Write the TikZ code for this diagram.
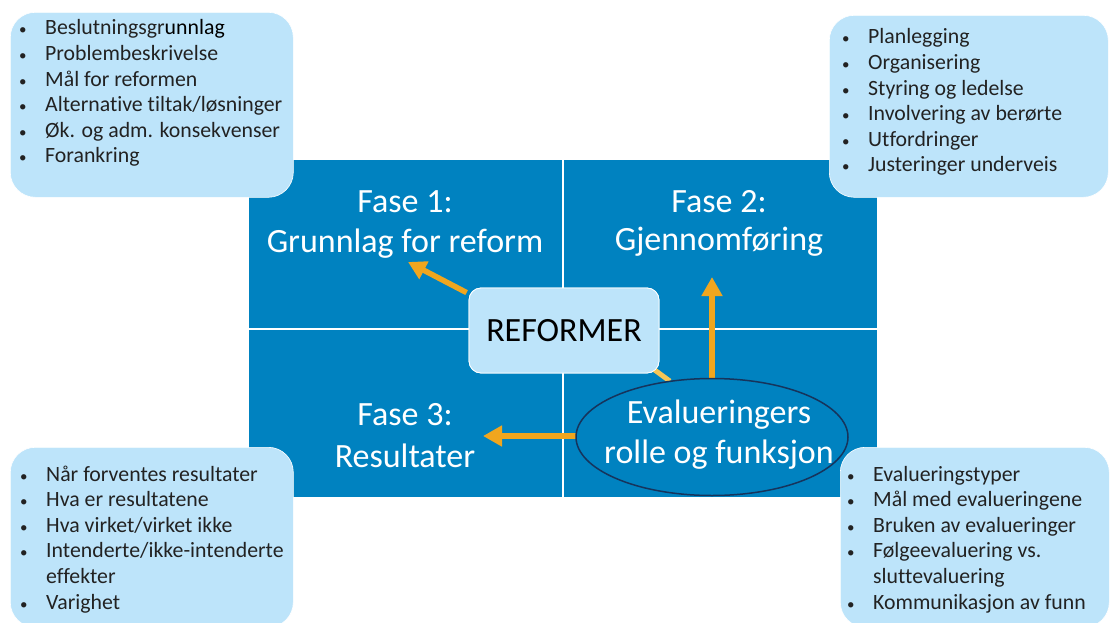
\documentclass[tikz,border=0pt]{standalone}
\usepackage{fontspec}
\setmainfont{Carlito}[Ligatures=NoCommon]
\usetikzlibrary{arrows.meta,shapes.geometric}

\definecolor{quad}{RGB}{0,130,192}
\definecolor{callout}{RGB}{189,228,250}
\definecolor{arrowcol}{RGB}{240,166,30}
\definecolor{linkcol}{RGB}{247,198,86}
\definecolor{rim}{RGB}{22,52,92}
\definecolor{listtext}{RGB}{34,34,34}

% small list bullet
\newcommand{\dotmark}{{\fontsize{15}{15}\selectfont\textbullet}}
% bullet lists in the corner callouts
\newcommand{\pointlist}[1]{%
  \begin{tabular}[t]{@{}p{26pt}@{}l@{}}#1\end{tabular}}
% two-line centred labels
\newcommand{\twolines}[3][0pt]{%
  \begin{tabular}[t]{@{}c@{}}#2\\[#1]#3\end{tabular}}

\begin{document}
\begin{tikzpicture}[x=1pt,y=-1pt,
  quadrant/.style={fill=quad, draw=none, anchor=north west, inner sep=0pt,
                   minimum width=313pt},
  callout/.style={fill=callout, draw=white, line width=0.6pt,
                  rounded corners=25pt, anchor=north west, inner sep=0pt},
  centrebox/.style={fill=callout, draw=white, line width=0.8pt,
                    rounded corners=12pt, inner sep=0pt,
                    minimum width=190pt, minimum height=85pt,
                    font=\fontsize{34}{40}\selectfont, text=black},
  phase/.style={text=white, font=\fontsize{34}{40}\selectfont,
                anchor=base, inner sep=0pt},
  listtxt/.style={text=listtext, font=\fontsize{21.8}{25.6}\selectfont,
                  anchor=base west, inner sep=0pt},
  arrowline/.style={draw=arrowcol, line width=6pt,
                    -{Triangle[width=20pt,length=19pt]}},
  smallarrow/.style={draw=arrowcol, line width=5.5pt,
                     -{Triangle[width=19pt,length=18pt]}},
  linkline/.style={draw=linkcol, line width=5pt},
]
\useasboundingbox (0,0) rectangle (1110,623);
\clip (0,0) rectangle (1110,623);

% the four phase quadrants
\node[quadrant, minimum height=168pt] (q1) at (249,160) {};
\node[quadrant, minimum height=168pt] (q2) at (564,160) {};
\node[quadrant, minimum height=167pt] (q3) at (249,330) {};
\node[quadrant, minimum height=167pt] (q4) at (564,330) {};

% corner callouts
\node[callout, minimum width=283pt, minimum height=185pt] (c1) at (10,12) {};
\node[callout, minimum width=279pt, minimum height=182pt] (c2) at (829,15) {};
\node[callout, minimum width=283pt, minimum height=180pt] (c3) at (10,447) {};

\node[listtxt] (l1) at (19,35) {\pointlist{%
  \dotmark & Beslutningsgr\textcolor{black}{unnlag}\\
  \dotmark & Problembeskrivelse\\
  \dotmark & Mål for reformen\\
  \dotmark & Alternative tiltak/løsninger\\
  \dotmark & Øk. og adm. konsekvenser\\
  \dotmark & Forankring\\}};
\node[listtxt] (l2) at (842,44) {\pointlist{%
  \dotmark & Planlegging\\
  \dotmark & Organisering\\
  \dotmark & Styring og ledelse\\
  \dotmark & Involvering av berørte\\
  \dotmark & Utfordringer\\
  \dotmark & Justeringer underveis\\}};
\node[listtxt] (l3) at (20,481) {\pointlist{%
  \dotmark & Når forventes resultater\\
  \dotmark & Hva er resultatene\\
  \dotmark & Hva virket/virket ikke\\
  \dotmark & Intenderte/ikke-intenderte\\
           & effekter\\
  \dotmark & Varighet\\}};

% phase titles
\node[phase] (p1) at (405,212) {\twolines{Fase 1:}{Grunnlag for reform}};
\node[phase] (p2) at (719,212) {\twolines[-2pt]{Fase 2:}{Gjennomføring}};
\node[phase] (p3) at (405,425) {\twolines[2pt]{Fase 3:}{Resultater}};

% centre box and evaluation ellipse
\coordinate (tipF1) at (408,262);
\coordinate (tipUp) at (712,277);
\coordinate (tipLeft) at (483,436);
\node[centrebox] (reform) at (564,330.5) {};
\node[ellipse, minimum width=272pt, minimum height=117pt, inner sep=0pt]
  (eval) at (712,437) {};

\draw[smallarrow] ([xshift=-2pt,yshift=-5pt]reform.north west) -- (tipF1);
\draw[arrowline] (eval.north) -- (tipUp);
\draw[arrowline] (eval.west |- tipLeft) -- (tipLeft);
\draw[linkline] ([xshift=-11pt,yshift=8pt]reform.south east) -- (eval.127);

\node[centrebox] at (reform) {REFORMER};
\node[ellipse, fill=quad, draw=rim, line width=1.5pt,
      minimum width=272pt, minimum height=117pt, inner sep=0pt] at (eval) {};
\node[phase] (evaltext) at (719,423)
  {\twolines{Evalueringers}{rolle og funksjon}};

% lower right callout, over the ellipse
\node[callout, minimum width=269pt, minimum height=180pt] (c4) at (840,447) {};
\node[listtxt] (l4) at (847,481) {\pointlist{%
  \dotmark & Evalueringstyper\\
  \dotmark & Mål med evalueringene\\
  \dotmark & Bruken av evalueringer\\
  \dotmark & Følgeevaluering vs.\\
           & sluttevaluering\\
  \dotmark & Kommunikasjon av funn\\}};
\end{tikzpicture}
\end{document}
